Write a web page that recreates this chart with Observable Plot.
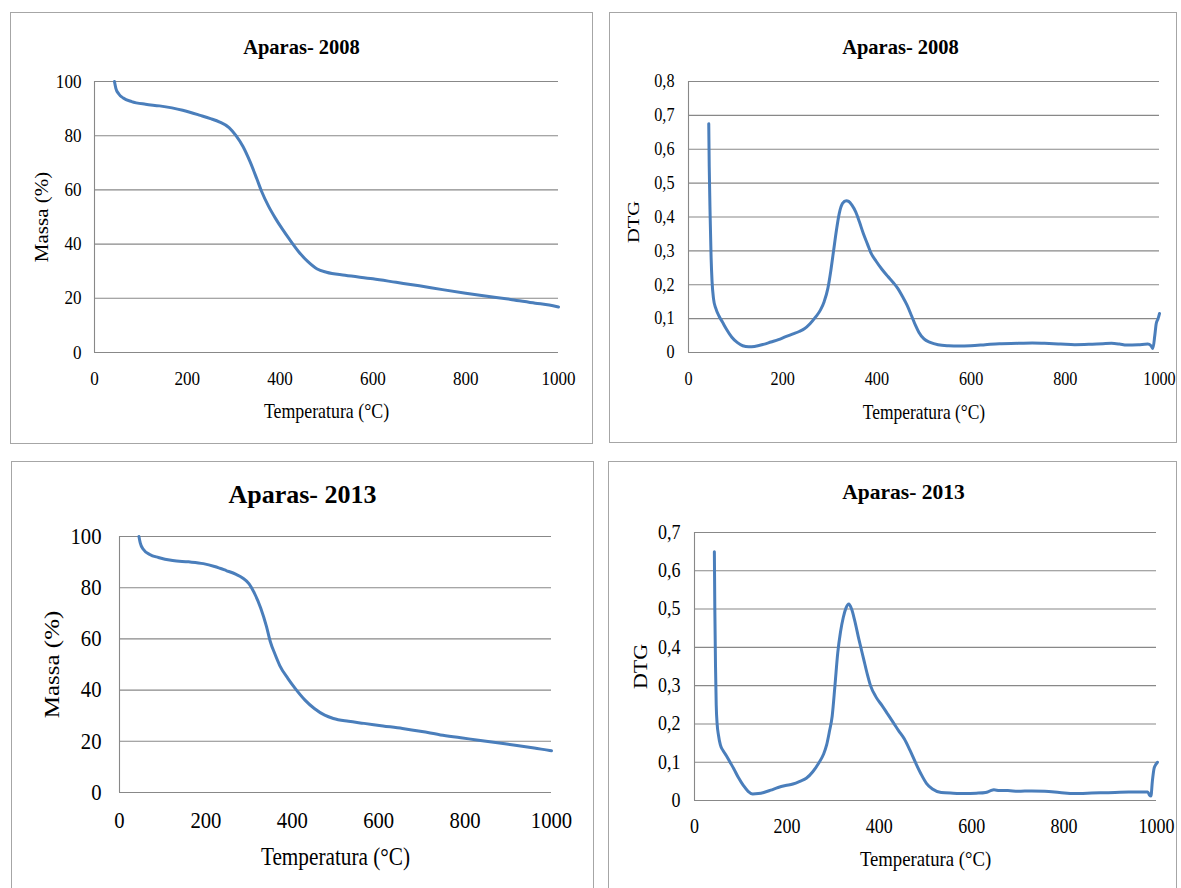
<!DOCTYPE html>
<html>
<head>
<meta charset="utf-8">
<script src="https://cdn.jsdelivr.net/npm/d3@7"></script>
<script src="https://cdn.jsdelivr.net/npm/@observablehq/plot@0.6"></script>
<style>
html, body { margin: 0; padding: 0; background: #fff; overflow: hidden; width: 1181px; height: 888px; position: relative; }
.box { position: absolute; box-sizing: border-box; border: 1.5px solid #a6a6a6; background: #fff; }
svg text { font-family: "Liberation Serif", "Times New Roman", serif !important; }
</style>
</head>
<body>
<script>
// ---------- Data ----------
const xTicks = [0, 200, 400, 600, 800, 1000];
const massTicks = [0, 20, 40, 60, 80, 100];
const dtg2008Ticks = [0, 0.1, 0.2, 0.3, 0.4, 0.5, 0.6, 0.7, 0.8];
const dtg2013Ticks = [0, 0.1, 0.2, 0.3, 0.4, 0.5, 0.6, 0.7];

const titles = ["Aparas- 2008", "Aparas- 2008", "Aparas- 2013", "Aparas- 2013"];
const xLabel = "Temperatura (°C)";
const massLabel = "Massa (%)";
const dtgLabel = "DTG";

// TG 2008
const tg2008Temp = [43, 46, 52, 62, 80, 110, 140, 190, 228, 250, 270, 290, 305, 320, 335, 350, 360, 375, 390, 405, 420, 440, 460, 480, 500, 540, 600, 650, 700, 750, 800, 850, 900, 950, 980, 1000];
const tg2008Mass = [100, 97.5, 95.5, 93.9, 92.6, 91.6, 91.0, 89.4, 87.5, 86.3, 85.0, 83.0, 80.0, 76.0, 70.5, 64.0, 59.5, 54.0, 49.5, 45.5, 41.8, 37.2, 33.5, 30.8, 29.6, 28.5, 27.2, 25.9, 24.6, 23.2, 21.9, 20.7, 19.5, 18.2, 17.5, 16.8];

// DTG 2008
const dtg2008Temp = [43, 44, 46, 48, 50, 53, 58, 65, 72, 81, 92, 104, 115, 128, 140, 159, 175, 191, 205, 222, 235, 246, 258, 270, 280, 288, 296, 302, 308, 314, 320, 327, 335, 340, 347, 355, 363, 371, 380, 387, 398, 411, 423, 435, 445, 454, 464, 474, 482, 489, 500, 513, 530, 552, 575, 599, 630, 660, 700, 730, 756, 790, 820, 850, 880, 898, 915, 930, 955, 975, 982, 986, 990, 993, 997, 1000];
const dtg2008Val = [0.675, 0.55, 0.40, 0.28, 0.21, 0.16, 0.13, 0.107, 0.09, 0.068, 0.045, 0.029, 0.02, 0.017, 0.018, 0.024, 0.031, 0.038, 0.046, 0.055, 0.062, 0.07, 0.085, 0.105, 0.125, 0.15, 0.19, 0.24, 0.30, 0.36, 0.41, 0.44, 0.448, 0.446, 0.435, 0.415, 0.385, 0.352, 0.32, 0.295, 0.27, 0.245, 0.225, 0.206, 0.188, 0.166, 0.14, 0.107, 0.08, 0.06, 0.04, 0.03, 0.023, 0.02, 0.019, 0.02, 0.023, 0.026, 0.027, 0.028, 0.027, 0.025, 0.023, 0.024, 0.026, 0.027, 0.025, 0.022, 0.023, 0.025, 0.02, 0.012, 0.05, 0.085, 0.1, 0.115];

// TG 2013
const tg2013Temp = [45, 48, 55, 70, 90, 123, 160, 194, 220, 247, 270, 285, 300, 312, 327, 340, 349, 360, 371, 390, 407, 430, 451, 475, 495, 530, 566, 610, 655, 700, 743, 790, 831, 875, 920, 960, 996, 1000];
const tg2013Mass = [100, 97.5, 95.0, 93.0, 91.8, 90.6, 90.1, 89.4, 88.3, 86.7, 85.2, 83.8, 81.5, 78.0, 72.0, 65.0, 59.0, 54.0, 49.6, 44.5, 40.6, 36.0, 32.8, 30.2, 28.9, 27.8, 27.0, 26.0, 25.0, 23.8, 22.5, 21.4, 20.4, 19.4, 18.4, 17.4, 16.4, 16.3];

// DTG 2013
const dtg2013Temp = [43, 44, 45.5, 47, 49, 52, 56, 62, 69, 77, 85, 95, 106, 116, 126, 138, 150, 165, 181, 197, 213, 228, 242, 256, 269, 279, 286, 292, 298, 304, 310, 316, 322, 328, 334, 340, 346, 356, 366, 374, 381, 393, 406, 418, 430, 442, 454, 466, 478, 490, 502, 515, 534, 560, 586, 610, 630, 640, 648, 660, 678, 700, 730, 758, 790, 822, 850, 878, 910, 940, 970, 981, 985, 988, 991, 995, 999, 1002];
const dtg2013Val = [0.65, 0.50, 0.35, 0.25, 0.20, 0.17, 0.145, 0.13, 0.117, 0.10, 0.083, 0.06, 0.039, 0.024, 0.017, 0.018, 0.021, 0.027, 0.034, 0.039, 0.043, 0.05, 0.058, 0.075, 0.098, 0.12, 0.145, 0.18, 0.22, 0.30, 0.385, 0.44, 0.478, 0.503, 0.513, 0.50, 0.474, 0.42, 0.37, 0.33, 0.30, 0.27, 0.248, 0.226, 0.204, 0.182, 0.161, 0.132, 0.10, 0.07, 0.045, 0.03, 0.021, 0.019, 0.018, 0.019, 0.021, 0.025, 0.028, 0.026, 0.026, 0.024, 0.025, 0.024, 0.021, 0.018, 0.019, 0.02, 0.021, 0.022, 0.022, 0.022, 0.014, 0.012, 0.05, 0.085, 0.095, 0.10];

// ---------- Rendering ----------
const LINE = "#4a7ebb";
const GRID = "#888888";
const FONT = "Liberation Serif, Times New Roman, serif";
const TICK_SQUEEZE = 0.9;   // reference text is horizontally condensed
const LABEL_SQUEEZE = 0.85;

const commaFmt = d => d === 0 ? "0" : d.toFixed(1).replace(".", ",");

function zip(xs, ys) { return xs.map((t, i) => ({t, v: ys[i]})); }

function panel(cfg) {
  const [L, T, R, B] = cfg.box;
  const [fl, ft, fr, fb] = cfg.frame;
  const border = document.createElement("div");
  border.className = "box";
  Object.assign(border.style, {left: L + "px", top: T + "px", width: (R - L) + "px", height: (cfg.boxBottom - T) + "px"});
  document.body.appendChild(border);

  const txt = {text: d => d, textAnchor: "middle", lineAnchor: "middle", fontFamily: FONT};
  const svg = Plot.plot({
    width: R - L,
    height: B - T,
    marginLeft: fl - L,
    marginRight: R - fr,
    marginTop: ft - T,
    marginBottom: B - fb,
    x: {domain: [0, 1000]},
    y: {domain: cfg.yDomain},
    style: {fontFamily: FONT, fontSize: cfg.tickFs + "px", color: "#000", background: "transparent", overflow: "visible"},
    marks: [
      Plot.gridY(cfg.yTicks, {stroke: GRID, strokeOpacity: 1, strokeWidth: 1.1}),
      Plot.ruleX([0], {stroke: GRID, strokeWidth: 1.1}),
      Plot.axisY(cfg.yTicks, {tickSize: 0, tickPadding: cfg.yPad, tickFormat: cfg.yFmt, label: null, fontSize: cfg.tickFs, fontFamily: FONT}),
      Plot.axisX(xTicks, {tickSize: 0, tickPadding: cfg.xPad, tickFormat: d => String(d), label: null, fontSize: cfg.tickFs, fontFamily: FONT}),
      Plot.line(cfg.data, {x: "t", y: "v", stroke: LINE, strokeWidth: 3, curve: "monotone-x", strokeLinejoin: "round", strokeLinecap: "round"}),
      Plot.text([cfg.title], {...txt, frameAnchor: "top", dx: cfg.titleDx, dy: cfg.titleDy, fontWeight: "bold", fontSize: cfg.titleFs}),
      Plot.text([cfg.yLabel], {...txt, frameAnchor: "left", rotate: -90, dx: cfg.yLabDx, dy: cfg.yLabDy || 0, fontSize: cfg.labFs}),
      Plot.text([xLabel], {...txt, frameAnchor: "bottom", dy: cfg.xLabDy, fontSize: cfg.labFs})
    ]
  });
  svg.setAttribute("font-family", FONT);
  svg.style.fontFamily = FONT;
  svg.querySelectorAll("text").forEach(t => {
    const s = t.textContent;
    if (s.startsWith("Aparas")) return;
    const k = (s === xLabel || s === massLabel || s === dtgLabel) ? LABEL_SQUEEZE : TICK_SQUEEZE;
    const tr = t.getAttribute("transform");
    if (tr) t.setAttribute("transform", tr + (tr.includes("rotate") ? ` scale(1,${k})` : ` scale(${k},1)`));
  });
  Object.assign(svg.style, {position: "absolute", left: L + "px", top: T + "px", maxWidth: "none"});
  document.body.appendChild(svg);
}

panel({
  box: [10, 12, 593, 444], boxBottom: 444, frame: [94, 81, 558, 352],
  yDomain: [0, 100], yTicks: massTicks, yFmt: d => String(d),
  data: zip(tg2008Temp, tg2008Mass),
  title: titles[0], titleFs: 20.5, titleDx: -25, titleDy: -34,
  yLabel: massLabel, labFs: 21, yLabDx: -52,
  xLabDy: 59, tickFs: 19, yPad: 13, xPad: 19
});
panel({
  box: [609, 12, 1177, 443], boxBottom: 443, frame: [688, 81, 1159, 352],
  yDomain: [0, 0.8], yTicks: dtg2008Ticks, yFmt: commaFmt,
  data: zip(dtg2008Temp, dtg2008Val),
  title: titles[1], titleFs: 20.5, titleDx: -23.5, titleDy: -34,
  yLabel: dtgLabel, labFs: 20.5, yLabDx: -55, yLabDy: 5,
  xLabDy: 60, tickFs: 18, yPad: 14, xPad: 20
});
panel({
  box: [11, 461, 594, 888], boxBottom: 900, frame: [119, 536, 551, 792],
  yDomain: [0, 100], yTicks: massTicks, yFmt: d => String(d),
  data: zip(tg2013Temp, tg2013Mass),
  title: titles[2], titleFs: 26, titleDx: -33, titleDy: -42,
  yLabel: massLabel, labFs: 25, yLabDx: -67,
  xLabDy: 64, tickFs: 23, yPad: 18, xPad: 19
});
panel({
  box: [608, 461, 1177, 888], boxBottom: 900, frame: [694, 532, 1156, 800],
  yDomain: [0, 0.7], yTicks: dtg2013Ticks, yFmt: commaFmt,
  data: zip(dtg2013Temp, dtg2013Val),
  title: titles[3], titleFs: 21.5, titleDx: -22, titleDy: -40,
  yLabel: dtgLabel, labFs: 22, yLabDx: -53,
  xLabDy: 58, tickFs: 20, yPad: 14, xPad: 18
});
</script>
</body>
</html>
